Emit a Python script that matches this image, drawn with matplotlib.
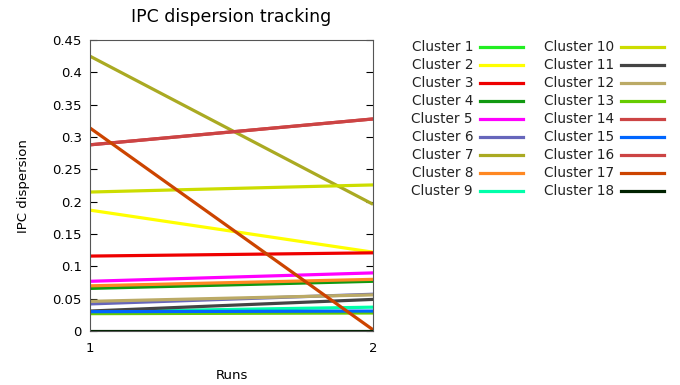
import matplotlib
matplotlib.use("Agg")
import matplotlib.pyplot as plt
from matplotlib.lines import Line2D

runs = [1, 2]
clusters = ["Cluster %d" % i for i in range(1, 19)]
# IPC dispersion at run 1 and run 2, one pair per cluster
values = [
    [0.029, 0.030],   # 1
    [0.187, 0.122],   # 2
    [0.116, 0.121],   # 3
    [0.066, 0.077],   # 4
    [0.077, 0.090],   # 5
    [0.042, 0.057],   # 6
    [0.425, 0.196],   # 7
    [0.070, 0.080],   # 8
    [0.030, 0.037],   # 9
    [0.215, 0.226],   # 10
    [0.031, 0.049],   # 11
    [0.046, 0.056],   # 12
    [0.027, 0.028],   # 13
    [0.288, 0.328],   # 14
    [0.030, 0.031],   # 15
    [0.288, 0.328],   # 16
    [0.314, 0.002],   # 17
    [0.000, 0.000],   # 18
]
colors = ["#22ee22", "#ffff00", "#ee0000", "#119911", "#ff00ff", "#6666bb",
          "#aaaa22", "#ff8822", "#00ffaa", "#ccdd00", "#444444", "#bbaa66",
          "#66cc00", "#cc4444", "#0066ff", "#cc4444", "#cc4400", "#002200"]
yticks = [0, 0.05, 0.1, 0.15, 0.2, 0.25, 0.3, 0.35, 0.4, 0.45]
yticklabels = ["0", "0.05", "0.1", "0.15", "0.2", "0.25", "0.3", "0.35", "0.4", "0.45"]

fig = plt.figure(figsize=(6.8, 3.85), dpi=100)
ax = fig.add_axes([0.1324, 0.140, 0.4162, 0.756])

for name, vals, c in zip(clusters, values, colors):
    ax.plot(runs, vals, color=c, lw=2.3, solid_capstyle="butt")

ax.set_xlim(1, 2)
ax.set_ylim(0, 0.45)
ax.set_xticks(runs)
ax.set_xticklabels(["1", "2"])
ax.set_yticks(yticks)
ax.set_yticklabels(yticklabels)
ax.tick_params(direction="in", right=True, top=False, labelsize=9.5, length=5, pad=6)
ax.tick_params(axis="x", length=0, pad=8)
for s in ax.spines.values():
    s.set_color("#555555")
ax.set_title("IPC dispersion tracking", fontsize=12.5, pad=13)
ax.set_xlabel("Runs", fontsize=9.5, labelpad=10)
ax.set_ylabel("IPC dispersion", fontsize=9.5, labelpad=16)

# legend drawn by hand: text right-aligned, sample line to its right
col_text_x = [473 / 680, 614 / 680]
col_line_x = [(480 / 680, 523 / 680), (621 / 680, 664 / 680)]
row_y0 = 47
row_dy = 18
for i, (name, c) in enumerate(zip(clusters, colors)):
    col = i // 9
    row = i % 9
    y = 1 - (row_y0 + row * row_dy) / 385
    fig.text(col_text_x[col], y, name, ha="right", va="center", fontsize=9.8, color="#222222")
    fig.add_artist(Line2D(col_line_x[col], [y, y], color=c, lw=2.3, transform=fig.transFigure))

fig.savefig("out.png", dpi=100)
